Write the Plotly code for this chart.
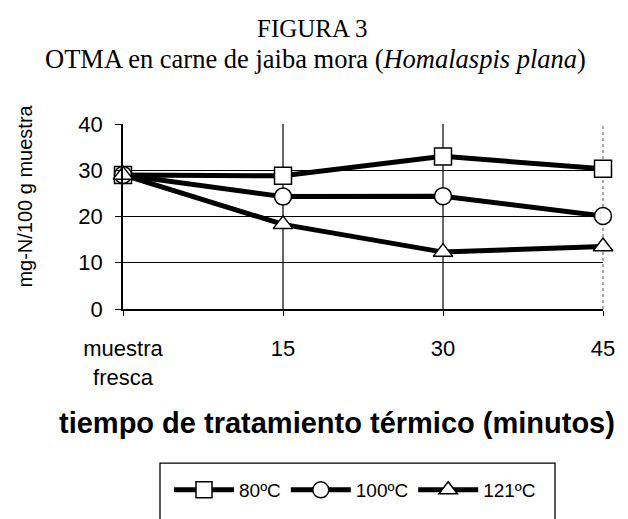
import plotly.graph_objects as go

categories = ["muestra<br>fresca", "15", "30", "45"]
x_pos = [0, 1, 2, 3]
s80 = [29.0, 28.8, 33.0, 30.3]
s100 = [29.0, 24.3, 24.4, 20.1]
s121 = [29.0, 18.3, 12.3, 13.5]
series_names = ["80ºC", "100ºC", "121ºC"]
symbols = ["square", "circle", "triangle-up"]
y_ticks = [0, 10, 20, 30, 40]

fig = go.Figure()
for name, vals, sym in zip(series_names, [s80, s100, s121], symbols):
    fig.add_trace(go.Scatter(
        x=x_pos, y=vals, name=name, mode="lines+markers",
        line=dict(color="black", width=5),
        marker=dict(symbol=sym, size=17, color="white", line=dict(color="black", width=1.5)),
        cliponaxis=False,
    ))

for xv in [1, 2]:
    fig.add_shape(type="line", xref="x", yref="paper", x0=xv, x1=xv, y0=0, y1=1,
                  line=dict(color="black", width=1.2), layer="below")
fig.add_shape(type="line", xref="paper", yref="paper", x0=1, x1=1, y0=0, y1=1,
              line=dict(color="#555", width=1, dash="dot"), layer="below")
fig.add_shape(type="rect", xref="paper", yref="paper", x0=(160 - 123) / 480, x1=(555 - 123) / 480,
              y0=-1.3, y1=(310 - 465) / 186, line=dict(color="black", width=1.3))

fig.update_layout(
    width=628, height=519,
    margin=dict(l=123, r=25, t=124, b=209),
    paper_bgcolor="white", plot_bgcolor="white",
    font=dict(family="Liberation Sans, Arial", color="black"),
    showlegend=True,
    legend=dict(orientation="h", x=(355 - 123) / 480, xanchor="center", y=(310 - 490) / 186,
                yanchor="middle", font=dict(size=19, family="Liberation Sans, Arial"),
                bgcolor="rgba(0,0,0,0)", itemwidth=60, tracegroupgap=0),
    xaxis=dict(range=[0, 3], tickvals=x_pos, ticktext=categories, showgrid=False,
               showline=True, linecolor="black", linewidth=1.5, ticks="outside",
               ticklen=5, tickcolor="black", tickfont=dict(size=22), ticklabelstandoff=14,
               zeroline=False),
    yaxis=dict(range=[0, 40], tickvals=y_ticks, showgrid=True, gridcolor="black", gridwidth=1.2,
               showline=True, linecolor="black", linewidth=1.5, ticks="outside",
               ticklen=6, tickcolor="black", tickfont=dict(size=22), ticklabelstandoff=8,
               zeroline=False),
    annotations=[
        dict(text="FIGURA 3", xref="paper", yref="paper", x=(312 - 123) / 480, y=(310 - 28) / 186,
             showarrow=False, font=dict(family="Liberation Serif, Times New Roman", size=25),
             yanchor="middle"),
        dict(text="OTMA en carne de jaiba mora (<i>Homalaspis plana</i>)", xref="paper", yref="paper",
             x=(315 - 123) / 480, y=(310 - 59) / 186, showarrow=False,
             font=dict(family="Liberation Serif, Times New Roman", size=26.5), yanchor="middle"),
        dict(text="mg-N/100 g muestra", xref="paper", yref="paper", x=(25 - 123) / 480,
             y=(310 - 197) / 186, textangle=-90, showarrow=False, font=dict(size=20),
             xanchor="center", yanchor="middle"),
        dict(text="<b>tiempo de tratamiento térmico (minutos)</b>", xref="paper", yref="paper",
             x=(337 - 123) / 480, y=(310 - 425) / 186, showarrow=False, font=dict(size=29),
             xanchor="center", yanchor="middle"),
    ],
)

fig.write_html("out.html", post_script="document.body.style.margin='0';",
               config={"displayModeBar": False})
